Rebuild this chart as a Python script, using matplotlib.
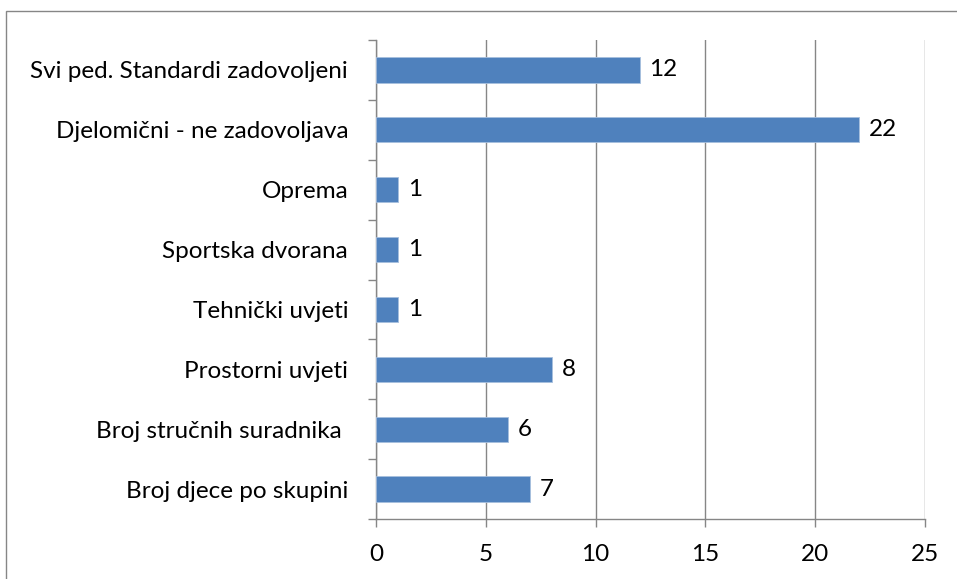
import matplotlib.pyplot as plt
from matplotlib.patches import Rectangle

categories = [
    "Broj djece po skupini",
    "Broj stručnih suradnika ",
    "Prostorni uvjeti",
    "Tehnički uvjeti",
    "Sportska dvorana",
    "Oprema",
    "Djelomični - ne zadovoljava",
    "Svi ped. Standardi zadovoljeni",
]
values = [7, 6, 8, 1, 1, 1, 22, 12]
x_ticks = [0, 5, 10, 15, 20, 25]

plt.rcParams["font.family"] = ["Lato", "DejaVu Sans"]
fs = 17.5

fig = plt.figure(figsize=(9.57, 5.79), dpi=100)
ax = fig.add_axes([376 / 957, 1 - 519 / 579, 549 / 957, 479 / 579])

bar_color = "#4F81BD"
grid_color = "#868686"

ax.barh(range(len(categories)), values, height=0.42, color=bar_color,
        edgecolor="#A7BFDE", linewidth=0.6, zorder=3)

for i, v in enumerate(values):
    ax.text(v + 0.45, i, str(v), va="center", ha="left", fontsize=fs, color="black")

ax.set_xlim(0, 25)
ax.set_ylim(-0.5, len(categories) - 0.5)
ax.set_xticks(x_ticks)
ax.set_xticklabels([str(t) for t in x_ticks], fontsize=fs)
ax.xaxis.grid(True, color=grid_color, linewidth=1.0, zorder=0)

# category labels centered, tick marks at the boundaries
ax.set_yticks(range(len(categories)))
ax.set_yticklabels(categories, fontsize=fs)
ax.set_yticks([i - 0.5 for i in range(len(categories) + 1)], minor=True)
ax.tick_params(axis="y", which="major", length=0, pad=20)
ax.tick_params(axis="y", which="minor", length=6, color=grid_color, width=1.0)
ax.tick_params(axis="x", length=6, color=grid_color, width=1.0, pad=12)

for side in ["top", "right"]:
    ax.spines[side].set_visible(False)
for side in ["left", "bottom"]:
    ax.spines[side].set_color(grid_color)
    ax.spines[side].set_linewidth(1.0)

# outer chart border
fig.patches.append(Rectangle((5.5 / 957, -0.1), 1.2, 1.1 - 10.5 / 579,
                             transform=fig.transFigure, fill=False,
                             edgecolor="#868686", linewidth=1.0, clip_on=False))

fig.savefig("out.png", dpi=100)
